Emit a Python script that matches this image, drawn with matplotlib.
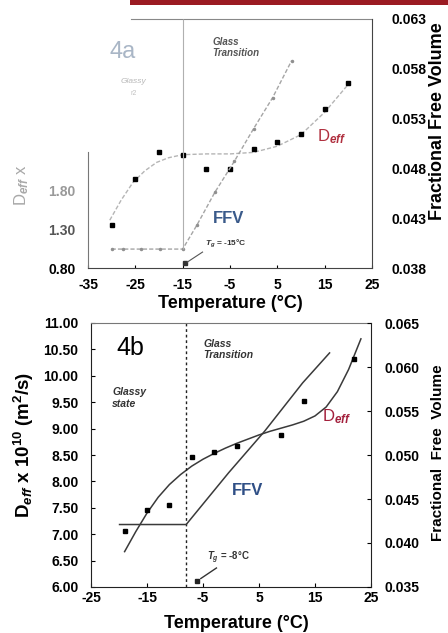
import matplotlib
matplotlib.use('Agg')
import matplotlib.pyplot as plt
from matplotlib.patches import Rectangle

plt.rcParams['font.family'] = ['Liberation Sans', 'DejaVu Sans']
plt.rcParams['mathtext.fontset'] = 'custom'
plt.rcParams['mathtext.rm'] = 'Liberation Sans:bold'
plt.rcParams['mathtext.it'] = 'Liberation Sans:italic:bold'
plt.rcParams['mathtext.bf'] = 'Liberation Sans:bold'

# ---- panel 4a data ----
a_temp = [-30, -25, -20, -15, -10, -5, 0, 5, 10, 15, 20]
a_deff = [1.36, 1.96, 2.31, 2.26, 2.09, 2.09, 2.35, 2.44, 2.54, 2.86, 3.20]
a_fit_x = [-30.4, -28, -25.5, -23, -20.5, -18, -15, -10, -5, 0, 5, 10, 15, 20.5]
a_fit_y = [1.42, 1.68, 1.91, 2.06, 2.17, 2.23, 2.27, 2.28, 2.28, 2.30, 2.38, 2.53, 2.82, 3.22]
a_ffv_x = [-30, -27.6, -23.7, -19.8, -15, -12, -8.2, -4.1, 0, 4, 8]
a_ffv_y = [0.0399, 0.0399, 0.0399, 0.0399, 0.0399, 0.0423, 0.0456, 0.0487, 0.0520, 0.0551, 0.0588]
a_tg = -15
a_left_ticks = [0.80, 1.30, 1.80]
a_right_ticks = [0.038, 0.043, 0.048, 0.053, 0.058, 0.063]
a_x_ticks = [-35, -25, -15, -5, 5, 15, 25]

# ---- panel 4b data ----
b_temp = [-19, -15, -11, -7, -3, 1, 9, 13, 22]
b_deff = [7.07, 7.45, 7.55, 8.46, 8.56, 8.67, 8.87, 9.52, 10.32]
b_fit_x = [-19, -17, -15, -13, -11, -9, -7, -5, -3, -1, 1, 3, 5, 7, 9, 11, 13, 15, 17, 19, 21, 23.2]
b_fit_y = [6.67, 7.05, 7.40, 7.70, 7.94, 8.13, 8.29, 8.42, 8.53, 8.63, 8.72, 8.80, 8.88, 8.95,
           9.01, 9.07, 9.14, 9.24, 9.41, 9.70, 10.12, 10.70]
b_ffv_x = [-19.9, -8, -0.4, 6.0, 12.8, 17.6]
b_ffv_y = [0.0421, 0.0421, 0.0480, 0.0527, 0.0582, 0.0616]
b_tg = -8
b_left_ticks = [6.00, 6.50, 7.00, 7.50, 8.00, 8.50, 9.00, 9.50, 10.00, 10.50, 11.00]
b_right_ticks = [0.035, 0.040, 0.045, 0.050, 0.055, 0.060, 0.065]
b_x_ticks = [-25, -15, -5, 5, 15, 25]

fig = plt.figure(figsize=(4.48, 6.33), dpi=100)

# red strip from the scanned page
fig.add_artist(Rectangle((130 / 448, 1 - 5 / 633), 1, 5 / 633, transform=fig.transFigure,
                         color='#9b1b22', lw=0))

tick_font = dict(fontsize=10, fontweight='bold')

# ===================== panel 4a =====================
ax = fig.add_axes([88 / 448, 1 - 268 / 633, 284 / 448, 249 / 633])
ax2 = ax.twinx()
ax.set_xlim(-35, 25)
ax.set_ylim(0.80, 4.03)
ax2.set_ylim(0.038, 0.063)

ax.plot(a_fit_x, a_fit_y, color='#b5b5b5', lw=1.0, ls=(0, (3, 1.5)))
ax.plot(a_temp, a_deff, 's', color='black', ms=2.8)
ax2.plot(a_ffv_x, a_ffv_y, color='#a5a5a5', lw=1.0, ls=(0, (3, 1.5)),
         marker='.', ms=3, mfc='#909090', mec='#909090')
ax2.vlines(a_tg, a_ffv_y[4], 0.063, color='#b0b0b0', lw=0.8)
ax2.plot([-14.5], [0.0385], 's', color='#333333', ms=2.5)
ax2.plot([-14.0, -10.8], [0.0386, 0.0396], color='#555555', lw=0.8)
ax2.text(-10.2, 0.0405, r'$T_g$ = -15°C', fontsize=6, fontweight='bold', color='#333333',
         va='center')

for s in ['left', 'top', 'bottom']:
    ax2.spines[s].set_visible(False)
ax.spines['right'].set_visible(False)
ax.spines['left'].set_bounds(0.80, 2.3)
ax.spines['left'].set_color('#777777')
ax.spines['top'].set_bounds(-26, 25)
ax.spines['top'].set_color('#888888')
ax.spines['bottom'].set_color('#444444')
ax2.spines['right'].set_color('#444444')

ax.set_xticks(a_x_ticks)
ax.set_xticklabels([str(t) for t in a_x_ticks], **tick_font)
ax.tick_params(axis='x', direction='in', length=2, pad=7)
ax.set_yticks(a_left_ticks)
ax.set_yticklabels(['%.2f' % t for t in a_left_ticks], **tick_font)
ax.get_yticklabels()[2].set_color('#999999')
ax.get_yticklabels()[1].set_color('#555555')
ax.tick_params(axis='y', direction='in', length=0, pad=9)
ax2.set_yticks(a_right_ticks)
ax2.set_yticklabels(['%.3f' % t for t in a_right_ticks], **tick_font)
ax2.tick_params(axis='y', direction='in', length=0, pad=14)

ax.set_xlabel('Temperature (°C)', fontsize=13, fontweight='bold')
ax.xaxis.set_label_coords(0.5, -0.108)
ax2.set_ylabel('Fractional Free Volume', fontsize=13, fontweight='bold')
ax2.yaxis.set_label_coords(1.2, 0.59)
fig.text(22 / 448, 1 - 185 / 633, r'D$_{\mathit{eff}}$ x', rotation=90, fontsize=12,
         color='#a8a8a8', ha='center', va='center')

ax.text(0.077, 0.867, '4a', transform=ax.transAxes, fontsize=17, color='#a9b6c6',
        va='center')
ax.text(0.16, 0.75, 'Glassy', transform=ax.transAxes, fontsize=6, style='italic',
        color='#b8b8b8', ha='center', va='center')
ax.text(0.16, 0.70, 'r2', transform=ax.transAxes, fontsize=5, color='#c0c0c0',
        ha='center', va='center')
ax.text(0.437, 0.885, 'Glass\nTransition', transform=ax.transAxes, fontsize=7,
        fontweight='bold', style='italic', color='#555555', va='center', linespacing=1.2)
ax.text(0.805, 0.526, r'D$_{\mathit{eff}}$', transform=ax.transAxes, fontsize=12,
        color='#b0303f', va='center')
ax.text(0.44, 0.20, 'FFV', transform=ax.transAxes, fontsize=12, fontweight='bold',
        color='#3a5a8a', va='center')

# ===================== panel 4b =====================
bx = fig.add_axes([91 / 448, 1 - 587 / 633, 280 / 448, 264 / 633])
bx2 = bx.twinx()
bx.set_xlim(-25, 25)
bx.set_ylim(6.0, 11.0)
bx2.set_ylim(0.035, 0.065)

bx.plot(b_fit_x, b_fit_y, color='#3a3a3a', lw=1.1)
bx.plot(b_temp, b_deff, 's', color='black', ms=3)
bx2.plot(b_ffv_x, b_ffv_y, color='#3a3a3a', lw=1.1)
bx.axvline(b_tg, color='#222222', lw=1.0, ls=(0, (2, 2)))
bx.plot([-6.1], [6.12], 's', color='#222222', ms=3)
bx.plot([-5.4, -2.6], [6.16, 6.36], color='#333333', lw=1.0)
bx.text(-4.3, 6.56, r'$T_g$ = -8°C', fontsize=7, fontweight='bold', color='#333333',
        va='center')

for s in ['left', 'top', 'bottom']:
    bx2.spines[s].set_visible(False)
bx.spines['right'].set_visible(False)
for s in bx.spines.values():
    s.set_color('#222222')
bx.spines['top'].set_color('#777777')
bx2.spines['right'].set_color('#222222')

bx.set_xticks(b_x_ticks)
bx.set_xticklabels([str(t) for t in b_x_ticks], **tick_font)
bx.tick_params(axis='x', direction='in', length=3, pad=3)
bx.set_yticks(b_left_ticks)
bx.set_yticklabels(['%.2f' % t for t in b_left_ticks], **tick_font)
bx.tick_params(axis='y', direction='in', length=3, pad=9)
bx2.set_yticks(b_right_ticks)
bx2.set_yticklabels(['%.3f' % t for t in b_right_ticks], **tick_font)
bx2.tick_params(axis='y', direction='in', length=3, pad=10)

bx.set_xlabel('Temperature (°C)', fontsize=13, fontweight='bold')
bx.xaxis.set_label_coords(0.52, -0.105)
bx.set_ylabel(r'D$_{\mathit{eff}}$ x 10$^{10}$ (m$^2$/s)', fontsize=13.5, fontweight='bold')
bx.yaxis.set_label_coords(-0.196, 0.54)
bx2.set_ylabel('Fractional  Free  Volume', fontsize=11, fontweight='bold')
bx2.yaxis.set_label_coords(1.215, 0.51)

bx.text(0.092, 0.904, '4b', transform=bx.transAxes, fontsize=18, va='center')
bx.text(0.40, 0.90, 'Glass\nTransition', transform=bx.transAxes, fontsize=7.5,
        fontweight='bold', style='italic', color='#333333', va='center', linespacing=1.2)
bx.text(0.076, 0.715, 'Glassy\nstate', transform=bx.transAxes, fontsize=7.5,
        fontweight='bold', style='italic', color='#333333', va='center', linespacing=1.2)
bx.text(0.825, 0.644, r'D$_{\mathit{eff}}$', transform=bx.transAxes, fontsize=12,
        color='#a3203c', va='center')
bx.text(0.504, 0.367, 'FFV', transform=bx.transAxes, fontsize=12, fontweight='bold',
        color='#2f4f86', va='center')

fig.savefig('out.png', dpi=100)
